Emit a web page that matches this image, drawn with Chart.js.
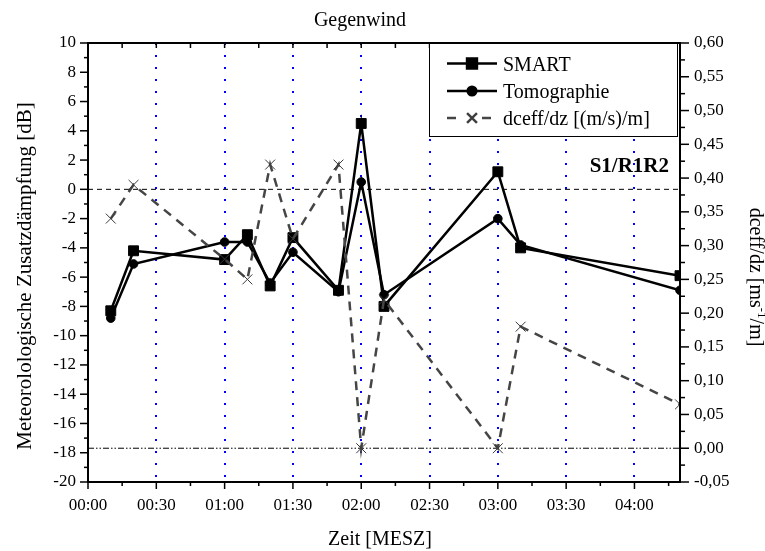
<!DOCTYPE html>
<html>
<head>
<meta charset="utf-8">
<script src="https://cdn.jsdelivr.net/npm/chart.js@4/dist/chart.umd.min.js"></script>
<style>
  body { margin: 0; background: #fff; }
  #wrap { width: 765px; height: 551px; position: relative; }
</style>
</head>
<body>
<div id="wrap"><canvas id="chart"></canvas></div>
<script>
// Messzeitpunkte in Minuten nach 00:00 MESZ
const minuten = [10, 20, 60, 70, 80, 90, 110, 120, 130, 180, 190, 260];
const smart = [-8.3, -4.2, -4.8, -3.1, -6.6, -3.3, -6.9, 4.5, -8.0, 1.2, -4.0, -5.9];
const tomographie = [-8.8, -5.1, -3.6, -3.6, -6.4, -4.3, -7.0, 0.5, -7.2, -2.0, -3.8, -6.9];
const dceff = [0.34, 0.39, 0.28, 0.25, 0.42, 0.31, 0.42, 0.0, 0.22, 0.0, 0.18, 0.065];

const zeitLabels = ['00:00', '00:30', '01:00', '01:30', '02:00', '02:30', '03:00', '03:30', '04:00'];

const FONT = "'Liberation Serif', 'Times New Roman', serif";
Chart.defaults.font.family = FONT;
Chart.defaults.color = '#000';

const toPts = vals => minuten.map((m, i) => ({ x: m, y: vals[i] }));

// Rahmen, Teilstriche, Referenzlinien, Legende und Beschriftungen
const rahmen = {
  id: 'rahmen',
  beforeDatasetsDraw(chart) {
    const { ctx, chartArea: a, scales: { y, y1 } } = chart;
    ctx.save();
    ctx.strokeStyle = '#000';
    ctx.lineWidth = 1;
    ctx.setLineDash([5, 4]);
    let py = y.getPixelForValue(0);
    ctx.beginPath(); ctx.moveTo(a.left, py); ctx.lineTo(a.right, py); ctx.stroke();
    ctx.setLineDash([6, 2, 1.5, 2, 1.5, 2]);
    py = y1.getPixelForValue(0);
    ctx.beginPath(); ctx.moveTo(a.left, py); ctx.lineTo(a.right, py); ctx.stroke();
    ctx.restore();
  },
  afterDatasetsDraw(chart) {
    const { ctx, chartArea: a, scales: { x, y, y1 } } = chart;
    const seg = (x0, y0, x1, y1_) => { ctx.beginPath(); ctx.moveTo(x0, y0); ctx.lineTo(x1, y1_); ctx.stroke(); };
    ctx.save();
    ctx.strokeStyle = '#000';
    ctx.lineWidth = 2;
    ctx.strokeRect(a.left, a.top, a.right - a.left, a.bottom - a.top);

    ctx.lineWidth = 1.5;
    for (let v = x.min; v <= x.max; v += 15) {
      const px = x.getPixelForValue(v);
      seg(px, a.bottom, px, a.bottom + (v % 30 === 0 ? 7 : 4));
      seg(px, a.top, px, a.top + 5);
    }
    for (let v = y.min; v <= y.max; v += 1) {
      const py = y.getPixelForValue(v);
      seg(a.left - (v % 2 === 0 ? 8 : 4), py, a.left, py);
    }
    for (let i = 0; i <= 26; i++) {
      const py = y1.getPixelForValue(y1.min + i * 0.025);
      seg(a.right, py, a.right + (i % 2 === 0 ? 9 : 5), py);
    }

    // Legende
    const lx = 429, ly = a.top, lw = a.right - 3 - lx, lh = 93;
    ctx.fillStyle = '#fff';
    ctx.fillRect(lx, ly, lw, lh);
    ctx.lineWidth = 1;
    ctx.strokeStyle = '#000';
    ctx.strokeRect(lx + 0.5, ly + 0.5, lw, lh);
    const rows = [63.5, 91, 118];
    chart.data.datasets.slice().sort((p, q) => p.legendRank - q.legendRank).forEach((ds, i) => {
      const cy = rows[i];
      ctx.strokeStyle = ds.borderColor;
      ctx.lineWidth = ds.borderWidth;
      ctx.setLineDash(ds.borderDash || []);
      if (ds.borderDash) {
        seg(447, cy, 459, cy);
        seg(482, cy, 494, cy);
      } else {
        seg(447, cy, 497, cy);
      }
      ctx.setLineDash([]);
      Chart.helpers.drawPoint(ctx, {
        pointStyle: ds.pointStyle, radius: ds.pointRadius, borderWidth: ds.pointBorderWidth, rotation: 0
      }, 472, cy);
      ctx.fillStyle = ds.pointBackgroundColor;
      ctx.strokeStyle = ds.pointBorderColor;
      ctx.lineWidth = ds.pointBorderWidth;
      if (ds.pointStyle !== 'crossRot') ctx.fill();
      ctx.stroke();
      ctx.fillStyle = '#000';
      ctx.font = '20px ' + FONT;
      ctx.textBaseline = 'alphabetic';
      ctx.textAlign = 'left';
      ctx.fillText(ds.label, 503, cy + 7);
    });

    // Texte
    ctx.fillStyle = '#000';
    ctx.font = 'bold 21px ' + FONT;
    ctx.textAlign = 'right';
    ctx.fillText('S1/R1R2', 669, 172);

    ctx.font = '20px ' + FONT;
    ctx.textAlign = 'center';
    ctx.fillText('Gegenwind', 360, 26);
    ctx.fillText('Zeit [MESZ]', 380, 545);

    ctx.save();
    ctx.translate(31, 276);
    ctx.rotate(-Math.PI / 2);
    ctx.font = '21px ' + FONT;
    ctx.fillText('Meteorolologische Zusatzdämpfung [dB]', 0, 0);
    ctx.restore();

    ctx.save();
    ctx.translate(750, 277);
    ctx.rotate(Math.PI / 2);
    const p1 = 'dceff/dz [ms', sup = '-1', p2 = '/m]';
    ctx.font = '20px ' + FONT;
    const w1 = ctx.measureText(p1).width, w3 = ctx.measureText(p2).width;
    ctx.font = '13px ' + FONT;
    const w2 = ctx.measureText(sup).width;
    let sx = -(w1 + w2 + w3) / 2;
    ctx.textAlign = 'left';
    ctx.font = '20px ' + FONT;
    ctx.fillText(p1, sx, 0);
    ctx.font = '13px ' + FONT;
    ctx.fillText(sup, sx + w1, -8);
    ctx.font = '20px ' + FONT;
    ctx.fillText(p2, sx + w1 + w2, 0);
    ctx.restore();

    ctx.restore();
  }
};

new Chart(document.getElementById('chart'), {
  type: 'line',
  data: {
    datasets: [
      {
        label: 'dceff/dz [(m/s)/m]',
        data: toPts(dceff),
        yAxisID: 'y1',
        order: 0,
        legendRank: 2,
        borderColor: '#454545',
        borderWidth: 2.5,
        borderDash: [9, 7],
        pointStyle: 'crossRot',
        pointRadius: 7,
        pointBorderWidth: 1,
        pointBorderColor: '#3a3a3a',
        pointBackgroundColor: '#3a3a3a'
      },
      {
        label: 'SMART',
        data: toPts(smart),
        yAxisID: 'y',
        order: 1,
        legendRank: 0,
        borderColor: '#000',
        borderWidth: 2.5,
        pointStyle: 'rect',
        pointRadius: 7,
        pointBorderWidth: 1,
        pointBorderColor: '#000',
        pointBackgroundColor: '#000'
      },
      {
        label: 'Tomographie',
        data: toPts(tomographie),
        yAxisID: 'y',
        order: 2,
        legendRank: 1,
        borderColor: '#000',
        borderWidth: 2.5,
        pointStyle: 'circle',
        pointRadius: 4.3,
        pointBorderWidth: 1,
        pointBorderColor: '#000',
        pointBackgroundColor: '#000'
      }
    ]
  },
  options: {
    responsive: true,
    maintainAspectRatio: false,
    animation: false,
    layout: { padding: { top: 43, left: 0, right: 0, bottom: 0 } },
    elements: { line: { tension: 0 } },
    plugins: { legend: { display: false }, tooltip: { enabled: false }, title: { display: false } },
    scales: {
      x: {
        type: 'linear',
        min: 0,
        max: 260,
        afterBuildTicks: s => { s.ticks = s.ticks.filter(t => t.value % 30 === 0 && t.value <= 240); },
        afterFit: s => { s.height = 69; },
        ticks: {
          stepSize: 30,
          padding: 13,
          maxRotation: 0,
          autoSkip: false,
          font: { size: 17 },
          callback: v => zeitLabels[v / 30]
        },
        grid: {
          drawTicks: false,
          lineWidth: 2,
          color: c => (c.tick && c.tick.value === 0 ? 'rgba(0,0,0,0)' : '#0000ff')
        },
        border: { display: false, dash: [2, 10] }
      },
      y: {
        position: 'left',
        min: -20,
        max: 10,
        afterFit: s => { s.width = 88; },
        ticks: { stepSize: 2, padding: 12, font: { size: 17 } },
        grid: { display: false, drawTicks: false },
        border: { display: false }
      },
      y1: {
        position: 'right',
        min: -0.05,
        max: 0.6,
        afterFit: s => { s.width = 85; },
        ticks: {
          stepSize: 0.05,
          padding: 14,
          font: { size: 17 },
          callback: v => v.toFixed(2).replace('.', ',')
        },
        grid: { display: false, drawTicks: false },
        border: { display: false }
      }
    }
  },
  plugins: [rahmen]
});
</script>
</body>
</html>
